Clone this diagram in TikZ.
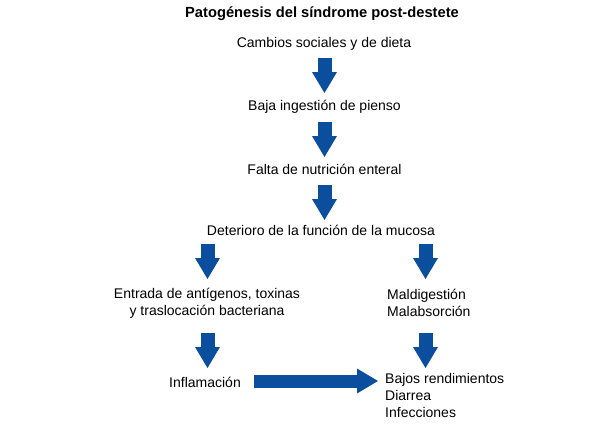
\documentclass[tikz,border=0pt]{standalone}
\usepackage{fontspec}
\setmainfont{Liberation Sans}
\usetikzlibrary{arrows.meta}
\definecolor{arrowblue}{RGB}{12,78,158}
\begin{document}
\begin{tikzpicture}[x=1pt,y=-1pt,
  lbl/.style={inner sep=0pt,font=\fontsize{14}{17}\selectfont},
  ttl/.style={inner sep=0pt,font=\fontsize{14.7}{17}\selectfont\bfseries},
  blk/.style={draw=arrowblue,line width=14pt,
    -{Triangle[length=21pt 0 0,width=25pt 0 0,line width=0pt,fill=arrowblue]}}]
\useasboundingbox (0,0) rectangle (610,447);
\node[ttl] (title) at (322,14) {Patogénesis del síndrome post-destete};
\node[lbl] (n1) at (324,44) {Cambios sociales y de dieta};
\node[lbl] (n2) at (324.5,107) {Baja ingestión de pienso};
\node[lbl] (n3) at (324.5,169) {Falta de nutrición enteral};
\node[lbl] (n4) at (321,230) {Deterioro de la función de la mucosa};
\node[lbl,align=center] (n5) at (207,303) {Entrada de antígenos, toxinas\\y traslocación bacteriana};
\node[lbl,align=left,anchor=west] (n6) at (387,303) {Maldigestión\\Malabsorción};
\node[lbl] (n7) at (205,382) {Inflamación};
\node[lbl,align=left,anchor=west] (n8) at (385,395) {Bajos rendimientos\\Diarrea\\Infecciones};
\coordinate (a1s) at (324.5,58);  \coordinate (a1e) at (324.5,93);
\coordinate (a2s) at (324.5,122); \coordinate (a2e) at (324.5,157);
\coordinate (a3s) at (324.5,185); \coordinate (a3e) at (324.5,220);
\coordinate (a4s) at (207.5,244); \coordinate (a4e) at (207.5,279);
\coordinate (a5s) at (425.5,244); \coordinate (a5e) at (425.5,279);
\coordinate (a6s) at (207.5,333); \coordinate (a6e) at (207.5,368);
\coordinate (a7s) at (425.5,333); \coordinate (a7e) at (425.5,368);
\coordinate (a8s) at (254,381);   \coordinate (a8e) at (378,381);
\draw[blk] (a1s) -- (a1e);
\draw[blk] (a2s) -- (a2e);
\draw[blk] (a3s) -- (a3e);
\draw[blk] (a4s) -- (a4e);
\draw[blk] (a5s) -- (a5e);
\draw[blk] (a6s) -- (a6e);
\draw[blk] (a7s) -- (a7e);
\draw[blk,line width=13pt] (a8s) -- (a8e);
\end{tikzpicture}
\end{document}
